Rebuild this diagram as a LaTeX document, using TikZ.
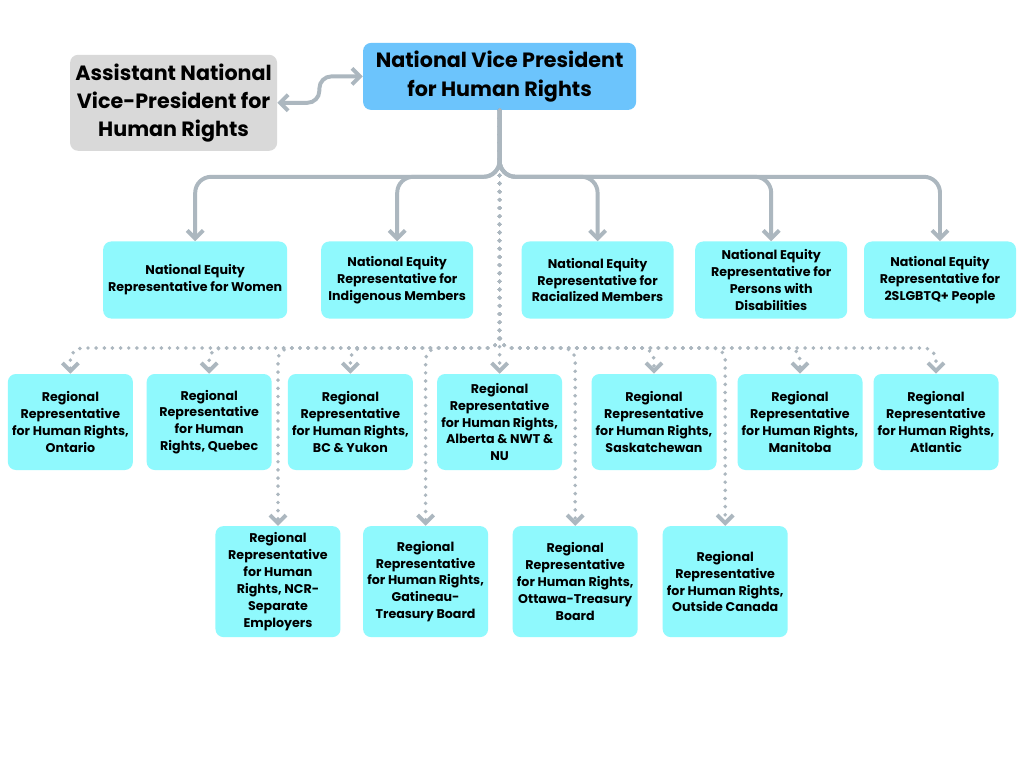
\documentclass[tikz,border=0pt]{standalone}
\usepackage{fontspec}
\setmainfont{Poppins}
\usetikzlibrary{arrows.meta}
\definecolor{boxgray}{RGB}{217,217,217}
\definecolor{boxblue}{RGB}{108,196,252}
\definecolor{boxcyan}{RGB}{143,249,253}
\definecolor{linkgray}{RGB}{172,183,191}
\tikzset{%
  >={Straight Barb[width=4mm,length=2mm]},
            base/.style = {rectangle, rounded corners=2mm, draw=none,
                           text centered, inner sep=2pt,
                           font=\bfseries\fontsize{9}{12}\selectfont},
  box0/.style = {base, minimum width=5.175cm, minimum height=2.4cm, fill=boxgray, align=center,
                 font=\bfseries\fontsize{14.7}{20}\selectfont},
  box1/.style = {base, minimum width=6.825cm, minimum height=1.675cm, fill=boxblue, align=center,
                 font=\bfseries\fontsize{14.7}{20.5}\selectfont},
  box2/.style = {base, minimum width=3.8cm, minimum height=1.925cm, fill=boxcyan, align=center},
  box3/.style = {base, minimum width=3.125cm, minimum height=2.4cm, fill=boxcyan, align=center},
  box4/.style = {base, minimum width=3.125cm, minimum height=2.775cm, fill=boxcyan, align=center},
  link/.style = {draw=linkgray, line width=2.8pt, rounded corners=4mm},
  dots/.style = {draw=linkgray, line width=2.8pt, line cap=round,
                 dash pattern=on 0pt off 5.8pt, rounded corners=3mm},
}
\begin{document}
\begin{tikzpicture}[align=center]

  \useasboundingbox[fill=white] (-12.49,1.91) rectangle (13.11,-17.29);

  \node (onNVP)       [box1]                                                        {National Vice President\\for Human Rights};
  \node (onAsst)      [box0, below of=onNVP, node distance=0.66cm, xshift=-8.15cm]  {Assistant National\\Vice-President for\\Human Rights};

  \node (onWomen)     [box2, below of=onNVP, node distance=5.09cm, xshift=-7.61cm, minimum width=4.6cm] {National Equity\\Representative for Women};
  \node (onIndig)     [box2, below of=onNVP, node distance=5.09cm, xshift=-2.56cm]  {National Equity\\Representative for\\Indigenous Members};
  \node (onRacial)    [box2, below of=onNVP, node distance=5.09cm, xshift= 2.45cm]  {National Equity\\Representative for\\Racialized Members};
  \node (onDisab)     [box2, below of=onNVP, node distance=5.09cm, xshift= 6.79cm]  {National Equity\\Representative for\\Persons with\\Disabilities};
  \node (onQueer)     [box2, below of=onNVP, node distance=5.09cm, xshift=11.01cm]  {National Equity\\Representative for\\2SLGBTQ+ People};

  \node (onOntario)   [box3, below of=onNVP, node distance=8.64cm, xshift=-10.73cm] {Regional\\Representative\\for Human Rights,\\Ontario};
  \node (onQuebec)    [box3, below of=onNVP, node distance=8.64cm, xshift=-7.26cm]  {Regional\\Representative\\for Human\\Rights, Quebec};
  \node (onBC)        [box3, below of=onNVP, node distance=8.64cm, xshift=-3.73cm]  {Regional\\Representative\\for Human Rights,\\BC \& Yukon};
  \node (onAlberta)   [box3, below of=onNVP, node distance=8.64cm]                  {Regional\\Representative\\for Human Rights,\\Alberta \& NWT \&\\NU};
  \node (onSask)      [box3, below of=onNVP, node distance=8.64cm, xshift= 3.86cm]  {Regional\\Representative\\for Human Rights,\\Saskatchewan};
  \node (onManitoba)  [box3, below of=onNVP, node distance=8.64cm, xshift= 7.51cm]  {Regional\\Representative\\for Human Rights,\\Manitoba};
  \node (onAtlantic)  [box3, below of=onNVP, node distance=8.64cm, xshift=10.91cm]  {Regional\\Representative\\for Human Rights,\\Atlantic};

  \node (onNCR)       [box4, below of=onNVP, node distance=12.63cm, xshift=-5.54cm] {Regional\\Representative\\for Human\\Rights, NCR-\\Separate\\Employers};
  \node (onGatineau)  [box4, below of=onNVP, node distance=12.63cm, xshift=-1.85cm] {Regional\\Representative\\for Human Rights,\\Gatineau-\\Treasury Board};
  \node (onOttawa)    [box4, below of=onNVP, node distance=12.63cm, xshift= 1.89cm] {Regional\\Representative\\for Human Rights,\\Ottawa-Treasury\\Board};
  \node (onOutside)   [box4, below of=onNVP, node distance=12.63cm, xshift= 5.64cm] {Regional\\Representative\\for Human Rights,\\Outside Canada};

  \coordinate (spine)  at (0,-2.51);
  \coordinate (dothub) at (0,-6.79);

  % dotted tree to the regional representatives
  \foreach \rep in {onOntario, onQuebec, onBC, onSask, onManitoba, onAtlantic,
                    onNCR, onGatineau, onOttawa, onOutside}
    \draw[dots, ->] (onNVP.south) |- (\rep.north |- dothub) -- (\rep.north);
  \draw[dots, ->] (onNVP.south) -- (onAlberta.north);

  % solid tree to the equity representatives
  \foreach \rep in {onWomen, onIndig, onRacial, onDisab, onQueer}
    \draw[link, ->] (onNVP.south) |- (\rep.north |- spine) -- (\rep.north);

  \draw[link, <->, rounded corners=3mm] (onAsst.east) -- ++(1.05,0) |- (onNVP.west);
\end{tikzpicture}
\end{document}
